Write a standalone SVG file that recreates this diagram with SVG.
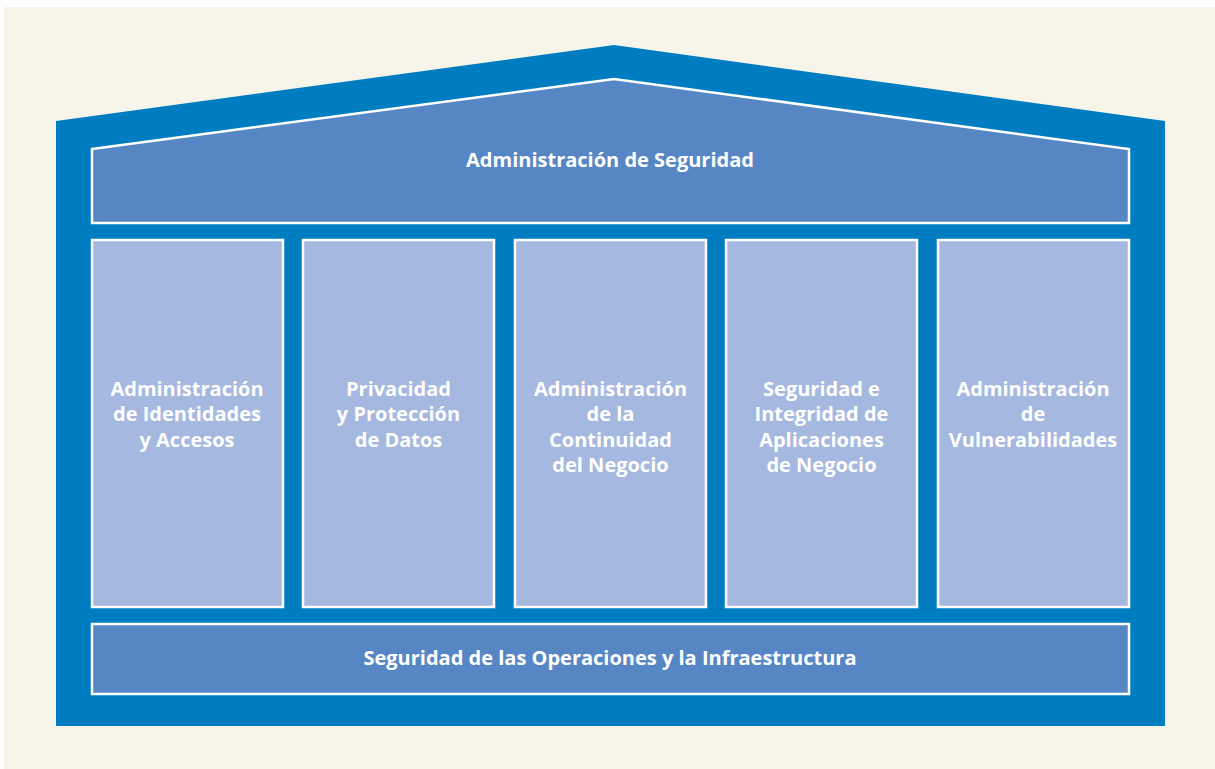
<svg xmlns="http://www.w3.org/2000/svg" width="1215" height="769" viewBox="0 0 1215 769">
<style>
.band{fill:#5687c4;stroke:#fff;stroke-width:2.5}
.col{fill:#a5b8df;stroke:#fff;stroke-width:2.5}
.t{font-family:"Open Sans","Liberation Sans",sans-serif;font-weight:bold;font-size:20px;fill:#fff;text-anchor:middle}
</style>
<rect x="0" y="0" width="1215" height="769" fill="#ffffff"/>
<rect x="4" y="7" width="1211" height="762" fill="#f7f4e9"/>
<polygon points="56,121 614,45 1165,121 1165,726 56,726" fill="#007dc0"/>
<g id="roof">
<polygon class="band" points="92,149 614,79 1129,149 1129,223 92,223"/>
<text class="t" x="610" y="167">Administración de Seguridad</text>
</g>
<g id="col1">
<rect class="col" x="92" y="240" width="191" height="367"/>
<text class="t" x="187" y="396">Administración</text>
<text class="t" x="187" y="421">de Identidades</text>
<text class="t" x="187" y="447">y Accesos</text>
</g>
<g id="col2">
<rect class="col" x="303" y="240" width="191" height="367"/>
<text class="t" x="398.5" y="396">Privacidad</text>
<text class="t" x="398.5" y="421">y Protección</text>
<text class="t" x="398.5" y="447">de Datos</text>
</g>
<g id="col3">
<rect class="col" x="515" y="240" width="191" height="367"/>
<text class="t" x="610.5" y="396">Administración</text>
<text class="t" x="610.5" y="421">de la</text>
<text class="t" x="610.5" y="447">Continuidad</text>
<text class="t" x="610.5" y="472">del Negocio</text>
</g>
<g id="col4">
<rect class="col" x="726" y="240" width="191" height="367"/>
<text class="t" x="821.5" y="396">Seguridad e</text>
<text class="t" x="821.5" y="421">Integridad de</text>
<text class="t" x="821.5" y="447">Aplicaciones</text>
<text class="t" x="821.5" y="472">de Negocio</text>
</g>
<g id="col5">
<rect class="col" x="938" y="240" width="191" height="367"/>
<text class="t" x="1033" y="396">Administración</text>
<text class="t" x="1033" y="421">de</text>
<text class="t" x="1033" y="447">Vulnerabilidades</text>
</g>
<g id="base">
<rect class="band" x="92" y="624" width="1037" height="70"/>
<text class="t" x="610" y="665">Seguridad de las Operaciones y la Infraestructura</text>
</g>
<g id="connectors"></g>
</svg>
